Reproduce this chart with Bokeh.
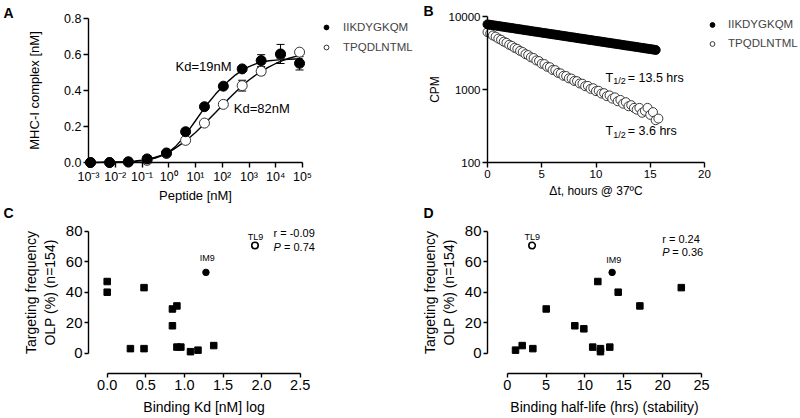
import math
from bokeh.plotting import figure
from bokeh.models import (Range1d, FixedTicker, Label, Legend, LegendItem, Whisker,
                          ColumnDataSource, TeeHead, NumeralTickFormatter)
from bokeh.layouts import column, row
from bokeh.embed import file_html
from bokeh.resources import INLINE

FONT = "Liberation Sans"

# ---------------- Panel A: peptide titration ----------------
peptide_nM = [0.00119, 0.00617, 0.0309, 0.155, 0.822, 4.27, 21.6, 110, 556, 2850, 15100, 77600]
iikd_complex = [0.0, 0.0, 0.004, 0.02, 0.053, 0.171, 0.31, 0.424, 0.52, 0.566, 0.603, 0.551]
iikd_sem = [0, 0, 0, 0, 0, 0.006, 0.01, 0.01, 0.012, 0.033, 0.053, 0.037]
tpqd_complex = [0.0, 0.0, 0.002, 0.012, 0.05, 0.123, 0.219, 0.323, 0.427, 0.507, 0.6, 0.613]
tpqd_sem = [0, 0, 0, 0, 0, 0.006, 0.01, 0.012, 0.03, 0.02, 0.02, 0.012]
fit_nM = [0.001, 0.00178, 0.00316, 0.00562, 0.01, 0.0178, 0.0316, 0.0562, 0.1, 0.178, 0.316,
          0.562, 1, 1.78, 3.16, 5.62, 10, 17.8, 31.6, 56.2, 100, 178, 316, 562, 1000, 1780,
          3160, 5620, 10000, 17800, 31600, 56200, 100000]
iikd_fit = [0.0002, 0.0004, 0.0006, 0.001, 0.0016, 0.0025, 0.004, 0.0065, 0.010, 0.016, 0.025,
            0.038, 0.058, 0.088, 0.13, 0.18, 0.232, 0.285, 0.335, 0.38, 0.42, 0.455, 0.487,
            0.513, 0.533, 0.548, 0.558, 0.565, 0.569, 0.572, 0.574, 0.575, 0.576]
tpqd_fit = [0.0005, 0.0008, 0.0012, 0.0018, 0.0027, 0.004, 0.006, 0.009, 0.0135, 0.02, 0.029,
            0.041, 0.056, 0.08, 0.106, 0.135, 0.167, 0.203, 0.24, 0.278, 0.317, 0.355, 0.392,
            0.427, 0.458, 0.486, 0.51, 0.531, 0.55, 0.566, 0.579, 0.59, 0.6]
a_xticks = [0.001, 0.01, 0.1, 1, 10, 100, 1000, 10000, 100000]
a_xlabels = ["10⁻³", "10⁻²", "10⁻¹", "10⁰", "10¹", "10²", "10³", "10⁴", "10⁵"]
a_yticks = [0.0, 0.2, 0.4, 0.6, 0.8]
series_names = ["IIKDYGKQM", "TPQDLNTML"]

# ---------------- Panel B: dissociation over time ----------------
hours = [0.0, 0.25, 0.5, 0.75, 1.0, 1.25, 1.5, 1.75, 2.0, 2.25, 2.5, 2.75, 3.0, 3.25, 3.5, 3.75,
         4.0, 4.25, 4.5, 4.75, 5.0, 5.25, 5.5, 5.75, 6.0, 6.25, 6.5, 6.75, 7.0, 7.25, 7.5, 7.75,
         8.0, 8.25, 8.5, 8.75, 9.0, 9.25, 9.5, 9.75, 10.0, 10.25, 10.5, 10.75, 11.0, 11.25, 11.5,
         11.75, 12.0, 12.25, 12.5, 12.75, 13.0, 13.25, 13.5, 13.75, 14.0, 14.25, 14.5, 14.75,
         15.0, 15.25, 15.5, 15.75]
cpm_iikd = [7800, 7700, 7600, 7500, 7400, 7310, 7210, 7120, 7030, 6940,
            6850, 6760, 6670, 6590, 6500, 6420, 6330, 6250, 6170, 6090,
            6010, 5940, 5860, 5780, 5710, 5640, 5560, 5490, 5420, 5350,
            5280, 5210, 5150, 5080, 5010, 4950, 4890, 4820, 4760, 4700,
            4640, 4580, 4520, 4460, 4400, 4350, 4290, 4240, 4180, 4130,
            4070, 4020, 3970, 3920, 3870, 3820, 3770, 3720, 3670, 3620,
            3580, 3530, 3480]
cpm_tpqd = [6100, 5850, 5500, 5300, 4980, 4800, 4520, 4360, 4100, 3960,
            3720, 3600, 3380, 3260, 3050, 2960, 2760, 2700, 2500, 2450,
            2250, 2230, 2050, 2020, 1850, 1840, 1690, 1660, 1540, 1530,
            1420, 1410, 1310, 1300, 1210, 1200, 1110, 1120, 1020, 1040,
            950, 960, 880, 890, 810, 830, 750, 780, 690, 720,
            640, 670, 590, 610, 560, 530, 560, 480, 510, 560,
            450, 490, 380, 400]
b_xticks = [0, 5, 10, 15, 20]
b_yticks = [100, 1000, 10000]

# ---------------- Panels C & D: targeting frequency ----------------
kd_log = [0.0, 0.0, 0.301, 0.477, 0.477, 0.845, 0.903, 0.845, 0.903, 0.954, 1.079, 1.176, 1.380]
kd_freq = [47, 40, 3, 43, 3, 29, 31, 18, 4, 4, 1, 2, 5]
halflife = [1.07, 1.93, 3.3, 5.02, 8.7, 9.86, 11.0, 11.66, 12.0, 12.0, 13.2, 14.28, 17.07, 22.4]
hl_freq = [2, 5, 3, 29, 18, 16, 4, 47, 3, 1, 4, 40, 31, 43]
im9_kd_log, im9_hl, im9_freq = 1.279, 13.5, 53
tl9_kd_log, tl9_hl, tl9_freq = 1.914, 3.2, 70.6
c_xticks = [0.0, 0.5, 1.0, 1.5, 2.0, 2.5]
d_xticks = [0, 5, 10, 15, 20, 25]
cd_yticks = [0, 20, 40, 60, 80]


def pmap(v0, p0, v1, p1, log=False):
    a0 = math.log10(v0) if log else v0
    a1 = math.log10(v1) if log else v1
    k = (a1 - a0) / (p1 - p0)
    if log:
        return lambda px: 10 ** (a0 + (px - p0) * k)
    return lambda px: a0 + (px - p0) * k


def panel(w, h, fx, fy, xlog=False, ylog=False):
    p = figure(width=w, height=h,
               x_range=Range1d(fx(0), fx(w)), y_range=Range1d(fy(h), fy(0)),
               x_axis_type="log" if xlog else "linear",
               y_axis_type="log" if ylog else "linear",
               output_backend="svg", toolbar_location=None, min_border=0)
    p.outline_line_color = None
    p.xgrid.visible = False
    p.ygrid.visible = False
    p.background_fill_color = "white"
    p.border_fill_color = "white"
    return p


def style_axis(ax, loc, bounds, ticks, tick_size, label, label_size, label_standoff,
               formatter=None, overrides=None, tick_out=5):
    ax.fixed_location = loc
    ax.bounds = bounds
    ax.ticker = FixedTicker(ticks=ticks)
    if formatter is not None:
        ax.formatter = formatter
    if overrides is not None:
        ax.major_label_overrides = overrides
    ax.axis_label = label
    ax.axis_label_text_font = FONT
    ax.axis_label_text_font_size = label_size
    ax.axis_label_text_font_style = "normal"
    ax.axis_label_text_color = "black"
    ax.axis_label_standoff = label_standoff
    ax.major_label_text_font = FONT
    ax.major_label_text_font_size = tick_size
    ax.major_label_text_color = "black"
    ax.major_label_standoff = 2
    ax.axis_line_color = "black"
    ax.axis_line_width = 1.4
    ax.major_tick_line_color = "black"
    ax.major_tick_line_width = 1.4
    ax.major_tick_out = tick_out
    ax.major_tick_in = 0
    ax.minor_tick_line_color = None


def add_text(p, x, y, text, size, align="left", baseline="middle", style="normal"):
    p.add_layout(Label(x=x, y=y, text=text, text_font=FONT, text_font_size=size,
                       text_align=align, text_baseline=baseline, text_font_style=style,
                       text_color="black"))


WA, WB = 414, 386          # top row: panel A is wider so its legend fits
WC, WD = 400, 400
H1, H2 = 203, 215
BX = WA                    # left edge of panel B in page pixels

# ======== Panel A ========
fxa = pmap(1e-3, 88, 1e5, 302, log=True)
fya = pmap(0.0, 162, 0.8, 18)
pa = panel(WA, H1, fxa, fya, xlog=True)
style_axis(pa.xaxis[0], 0.0, (1e-3, 1e5), a_xticks, "12.5px", "Peptide [nM]", "13px", 1,
           overrides=dict(zip(a_xticks, a_xlabels)))
style_axis(pa.yaxis[0], 1e-3, (0.0, 0.8), a_yticks, "12.5px", "MHC-I complex [nM]", "13px", 19,
           formatter=NumeralTickFormatter(format="0.0"))

src_a = ColumnDataSource(dict(
    x=peptide_nM,
    f_lo=[v - e for v, e in zip(iikd_complex, iikd_sem)],
    f_hi=[v + e for v, e in zip(iikd_complex, iikd_sem)],
    o_lo=[v - e for v, e in zip(tpqd_complex, tpqd_sem)],
    o_hi=[v + e for v, e in zip(tpqd_complex, tpqd_sem)],
))
for lo, hi in (("o_lo", "o_hi"), ("f_lo", "f_hi")):
    pa.add_layout(Whisker(source=src_a, base="x", lower=lo, upper=hi, dimension="height",
                          line_color="black", line_width=1,
                          upper_head=TeeHead(size=8, line_color="black", line_width=1),
                          lower_head=TeeHead(size=8, line_color="black", line_width=1)))
pa.line(fit_nM, tpqd_fit, line_color="black", line_width=1.4)
pa.line(fit_nM, iikd_fit, line_color="black", line_width=1.4)
ra_o = pa.scatter(peptide_nM, tpqd_complex, marker="circle", size=10,
                  fill_color="white", line_color="#333333", line_width=1)
ra_f = pa.scatter(peptide_nM, iikd_complex, marker="circle", size=10,
                  fill_color="black", line_color="black", line_width=1)
leg_a = Legend(items=[LegendItem(label=series_names[0], renderers=[ra_f]),
                      LegendItem(label=series_names[1], renderers=[ra_o])],
               location=(320, H1 - 57), padding=0, spacing=0, margin=0,
               glyph_width=12, glyph_height=20, label_height=20, label_standoff=11,
               label_text_font=FONT, label_text_font_size="11.5px",
               border_line_color=None, background_fill_alpha=0)
pa.add_layout(leg_a)
add_text(pa, 10 ** 0.252, 0.535, "Kd=19nM", "13px")
add_text(pa, 10 ** 2.432, 0.298, "Kd=82nM", "13px")
add_text(pa, fxa(3), fya(4), "A", "14px", baseline="top", style="bold")

# ======== Panel B ========
fxb = pmap(0.0, 487 - BX, 20.0, 704 - BX)
fyb = pmap(10000, 16, 100, 162, log=True)
pb = panel(WB, H1, fxb, fyb, ylog=True)
style_axis(pb.xaxis[0], 100, (0, 20), b_xticks, "11.5px", "Δt, hours @ 37ºC", "12px", 3)
style_axis(pb.yaxis[0], 0.0, (100, 10000), b_yticks, "11.5px", "CPM", "12px", 4,
           overrides={t: str(t) for t in b_yticks})
rb_o = pb.scatter(hours, cpm_tpqd, marker="circle", size=9,
                  fill_color="white", line_color="#3a3a3a", line_width=1)
rb_f = pb.scatter(hours[:len(cpm_iikd)], cpm_iikd, marker="circle", size=9,
                  fill_color="black", line_color="black", line_width=1)
leg_b = Legend(items=[LegendItem(label=series_names[0], renderers=[rb_f]),
                      LegendItem(label=series_names[1], renderers=[rb_o])],
               location=(706 - BX, H1 - 52.5), padding=0, spacing=0, margin=0,
               glyph_width=12, glyph_height=19, label_height=19, label_standoff=10,
               label_text_font=FONT, label_text_font_size="11.5px",
               border_line_color=None, background_fill_alpha=0)
pb.add_layout(leg_b)
add_text(pb, 10.88, 1459, "T", "12.5px")
add_text(pb, 11.6, 1320, "1/2", "9px")
add_text(pb, 12.93, 1459, "= 13.5 hrs", "12.5px")
add_text(pb, 10.88, 266, "T", "12.5px")
add_text(pb, 11.6, 241, "1/2", "9px")
add_text(pb, 12.93, 266, "= 3.6 hrs", "12.5px")
add_text(pb, fxb(423 - BX), fyb(2), "B", "14px", baseline="top", style="bold")

ylab_cd = "Targeting frequency\nOLP (%) (n=154)"

# ======== Panel C ========
fxc = pmap(0.0, 106.7, 2.5, 299.7)
fyc = pmap(0.0, 149.7, 80.0, 27.7)
pc = panel(WC, H2, fxc, fyc)
style_axis(pc.xaxis[0], -13.5, (0, 2.5), c_xticks, "14.5px", "Binding Kd [nM] log", "14px", 6,
           formatter=NumeralTickFormatter(format="0.0"), tick_out=4)
style_axis(pc.yaxis[0], fxc(88), (0, 80), cd_yticks, "15px", ylab_cd, "14px", 5, tick_out=4)
pc.scatter(kd_log, kd_freq, marker="square", size=6.5, fill_color="black", line_color="black")
pc.scatter([im9_kd_log], [im9_freq], marker="circle", size=6.5, fill_color="black",
           line_color="black")
pc.scatter([tl9_kd_log], [tl9_freq], marker="circle", size=6.5, fill_color="white",
           line_color="black", line_width=1.6)
add_text(pc, 1.295, 62.3, "IM9", "9px", align="center")
add_text(pc, 1.921, 76.5, "TL9", "9px", align="center")
add_text(pc, 2.154, 78.5, "r = -0.09", "11px")
add_text(pc, 2.154, 69.5, "P", "11px", style="italic")
add_text(pc, 2.29, 69.5, "= 0.74", "11px")
add_text(pc, fxc(3), fyc(1), "C", "14px", baseline="top", style="bold")

# ======== Panel D ========
fxd = pmap(0.0, 106.7, 25.0, 301)
fyd = pmap(0.0, 149.7, 80.0, 27.7)
pd_ = panel(WD, H2, fxd, fyd)
style_axis(pd_.xaxis[0], -13.5, (0, 25), d_xticks, "14.5px",
           "Binding half-life (hrs) (stability)", "14px", 6, tick_out=4)
style_axis(pd_.yaxis[0], fxd(87), (0, 80), cd_yticks, "15px", ylab_cd, "14px", 5, tick_out=4)
pd_.scatter(halflife, hl_freq, marker="square", size=6.5, fill_color="black", line_color="black")
pd_.scatter([im9_hl], [im9_freq], marker="circle", size=6.5, fill_color="black",
            line_color="black")
pd_.scatter([tl9_hl], [tl9_freq], marker="circle", size=6.5, fill_color="white",
            line_color="black", line_width=1.6)
add_text(pd_, 13.72, 60.8, "IM9", "9px", align="center")
add_text(pd_, 3.22, 76.1, "TL9", "9px", align="center")
add_text(pd_, 19.95, 75.0, "r = 0.24", "11px")
add_text(pd_, 19.95, 66.2, "P", "11px", style="italic")
add_text(pd_, 21.24, 66.2, "= 0.36", "11px")
add_text(pd_, fxd(23), fyd(1), "D", "14px", baseline="top", style="bold")

layout = column(row(pa, pb), row(pc, pd_))
open("out.html", "w").write(file_html(layout, INLINE))
